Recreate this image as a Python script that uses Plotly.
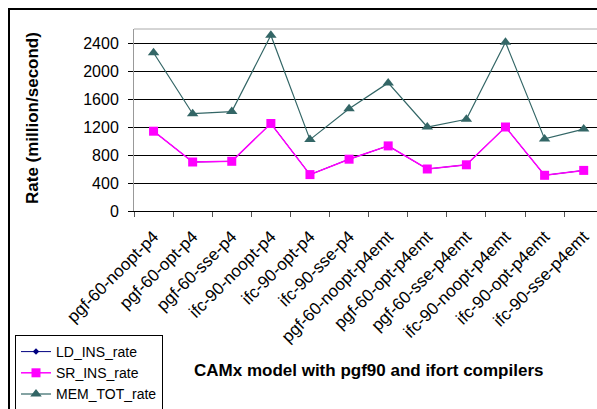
import plotly.graph_objects as go

categories = ["pgf-60-noopt-p4", "pgf-60-opt-p4", "pgf-60-sse-p4", "ifc-90-noopt-p4",
              "ifc-90-opt-p4", "ifc-90-sse-p4", "pgf-60-noopt-p4emt", "pgf-60-opt-p4emt",
              "pgf-60-sse-p4emt", "ifc-90-noopt-p4emt", "ifc-90-opt-p4emt", "ifc-90-sse-p4emt"]
ld_ins_rate = [1140, 700, 710, 1250, 520, 740, 930, 600, 660, 1200, 510, 580]
sr_ins_rate = [1140, 700, 710, 1250, 520, 740, 930, 600, 660, 1200, 510, 580]
mem_tot_rate = [2260, 1390, 1420, 2510, 1020, 1460, 1830, 1200, 1310, 2410, 1030, 1170]
y_ticks = [0, 400, 800, 1200, 1600, 2000, 2400]

W, H = 597, 409
L, T, B = 134, 29, 198
PW = W - L
PH = H - T - B

def px(x):
    return (x - L) / PW

def py(y):
    return (H - B - y) / PH

fig = go.Figure()
fig.add_trace(go.Scatter(x=categories, y=ld_ins_rate, name="LD_INS_rate", mode="lines+markers",
                         line=dict(color="#000080", width=1),
                         marker=dict(symbol="diamond", size=5, color="#000080")))
fig.add_trace(go.Scatter(x=categories, y=sr_ins_rate, name="SR_INS_rate", mode="lines+markers",
                         line=dict(color="#FF00FF", width=1.5),
                         marker=dict(symbol="square", size=9, color="#FF00FF")))
fig.add_trace(go.Scatter(x=categories, y=mem_tot_rate, name="MEM_TOT_rate", mode="lines+markers",
                         line=dict(color="#336666", width=1.2),
                         marker=dict(symbol="triangle-up", size=10, color="#336666")))

font = "Liberation Sans, Arial, sans-serif"
fig.update_layout(
    width=W, height=H,
    margin=dict(l=L, r=0, t=T, b=B, autoexpand=False),
    paper_bgcolor="white", plot_bgcolor="white",
    font=dict(family=font, color="black"),
    showlegend=True,
    legend=dict(x=px(15), y=py(335), xanchor="left", yanchor="top",
                bgcolor="white", bordercolor="black", borderwidth=1,
                font=dict(size=14, family=font), itemwidth=30, tracegroupgap=0),
    xaxis=dict(type="category", range=[-0.5, 11.34], showgrid=False,
               showline=True, linecolor="black", linewidth=1,
               ticks="outside", ticklen=5, tickcolor="#555", tickson="boundaries",
               tickangle=-45, tickfont=dict(size=17, family=font), ticklabelstandoff=8,
               automargin=False),
    yaxis=dict(range=[0, 2600], tickvals=y_ticks, showgrid=True, gridcolor="black", gridwidth=1,
               zeroline=False, showline=True, linecolor="#999", linewidth=1,
               ticks="outside", ticklen=5, tickcolor="black", ticklabelstandoff=6,
               tickfont=dict(size=16, family=font), automargin=False),
    shapes=[
        dict(type="line", xref="paper", yref="paper", x0=0, x1=1.05, y0=1, y1=1,
             line=dict(color="#aaa", width=1)),
        dict(type="rect", xref="paper", yref="paper", x0=px(9), x1=px(W + 20),
             y0=py(H + 20), y1=py(9), line=dict(color="black", width=2), layer="below"),
    ],
    annotations=[
        dict(text="<b>CAMx model with pgf90 and ifort compilers</b>", xref="paper", yref="paper",
             x=px(368), y=py(370), xanchor="center", yanchor="middle", showarrow=False,
             font=dict(size=17, family=font)),
        dict(text="<b>Rate (million/second)</b>", xref="paper", yref="paper",
             x=px(32), y=py(118), xanchor="center", yanchor="middle", showarrow=False,
             textangle=-90, font=dict(size=17, family=font)),
    ],
)

fig.write_html("out.html")
